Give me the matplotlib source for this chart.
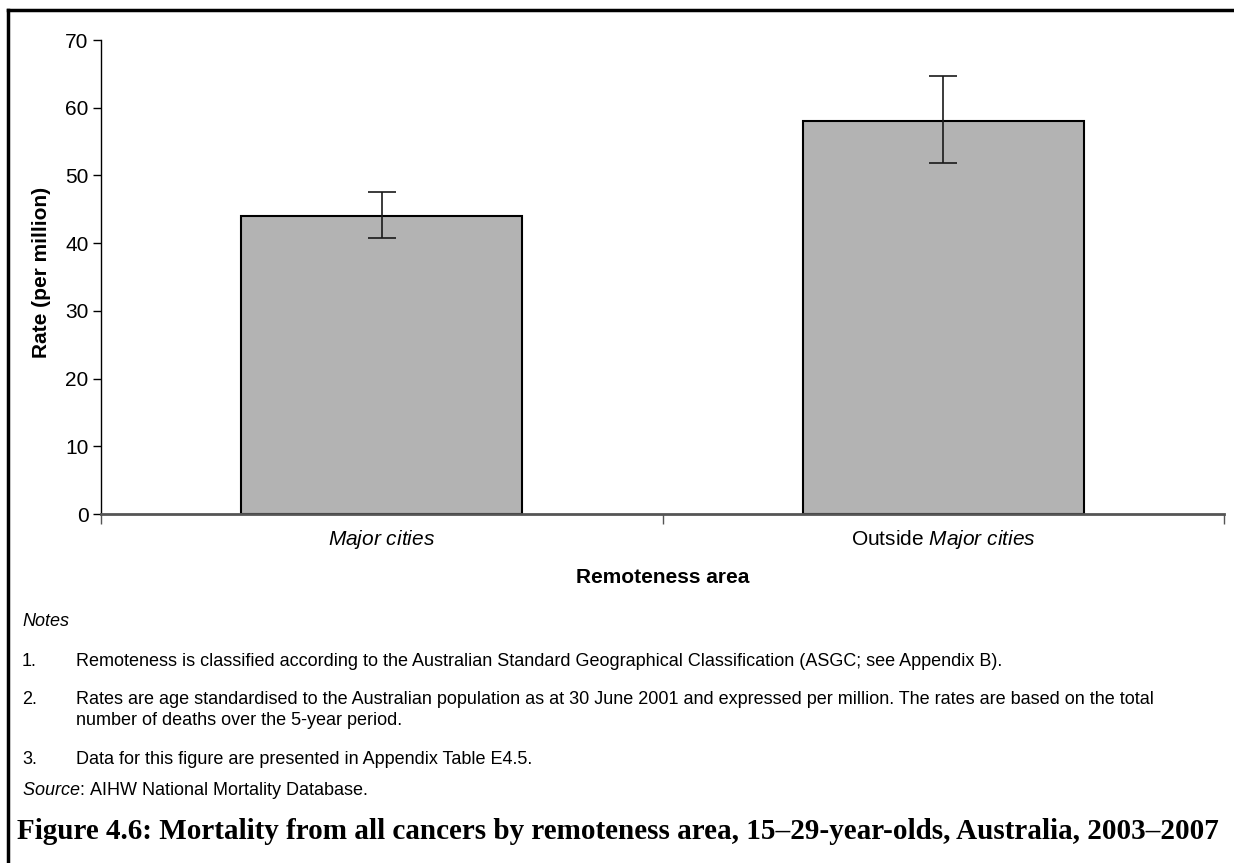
import numpy as np
import matplotlib
matplotlib.use("Agg")
import matplotlib.pyplot as plt
from matplotlib.lines import Line2D

plt.rcParams['font.family'] = ['Liberation Sans', 'DejaVu Sans']
plt.rcParams['mathtext.fontset'] = 'custom'
plt.rcParams['mathtext.rm'] = 'Liberation Sans'
plt.rcParams['mathtext.it'] = 'Liberation Sans:italic'

# age-standardised cancer mortality, 15-29 year olds, 2003-2007
areas = [r"$\mathit{Major\ cities}$", r"Outside $\mathit{Major\ cities}$"]
rates = [44.0, 58.1]
ci_low = [40.7, 51.9]
ci_high = [47.5, 64.7]

notes = [
    ("1.", ["Remoteness is classified according to the Australian Standard Geographical Classification (ASGC; see Appendix B)."]),
    ("2.", ["Rates are age standardised to the Australian population as at 30 June 2001 and expressed per million. The rates are based on the total",
            "number of deaths over the 5-year period."]),
    ("3.", ["Data for this figure are presented in Appendix Table E4.5."]),
]
source = r"$\mathit{Source}$: AIHW National Mortality Database."
title = "Figure 4.6: Mortality from all cancers by remoteness area, 15\u201329-year-olds, Australia, 2003\u20132007"

W, H = 1234, 863
fig = plt.figure(figsize=(W / 100, H / 100), dpi=100)
ax = fig.add_axes([101 / W, 1 - 514 / H, 1123 / W, 474 / H])

x = np.arange(len(rates))
rates = np.array(rates)
yerr = np.array([rates - np.array(ci_low), np.array(ci_high) - rates])
ax.bar(x, rates, width=0.5, color='#b3b3b3', edgecolor='black', linewidth=1.5, zorder=2)
ax.errorbar(x, rates, yerr=yerr, fmt='none', ecolor='#1a1a1a', elinewidth=1.2,
            capsize=10, capthick=1.2, zorder=3)

ax.set_xlim(-0.5, 1.5)
ax.set_ylim(0, 70)
ax.set_yticks(range(0, 71, 10))
ax.set_xticks(x)
ax.set_xticklabels(areas, fontsize=15)
ax.set_xticks([-0.5, 0.5, 1.5], minor=True)
ax.tick_params(axis='x', which='major', length=0, pad=10)
ax.tick_params(axis='x', which='minor', length=7, width=1, color='#555555', direction='out')
ax.tick_params(axis='y', length=6, width=1, labelsize=15, pad=3)

for s in ['top', 'right']:
    ax.spines[s].set_visible(False)
ax.spines['left'].set_linewidth(1)
ax.spines['bottom'].set_color('#555555')
ax.spines['bottom'].set_linewidth(2)
ax.spines['bottom'].set_zorder(4)

ax.set_ylabel("Rate (per million)", fontsize=15, fontweight='bold')
ax.yaxis.set_label_coords(-0.0445, 0.51)
ax.set_xlabel("Remoteness area", fontsize=15, fontweight='bold')
ax.xaxis.set_label_coords(0.5, -0.114)

# notes and source underneath
fs = 13
fig.text(22 / W, 1 - 621 / H, "Notes", fontsize=fs, style='italic', va='center')
ys = [661, 700, 759]
for (num, lines), y in zip(notes, ys):
    fig.text(22 / W, 1 - y / H, num, fontsize=fs, va='center')
    for i, line in enumerate(lines):
        fig.text(76 / W, 1 - (y + 20 * i) / H, line, fontsize=fs, va='center')
fig.text(22 / W, 1 - 790 / H, source, fontsize=fs, va='center')
fig.text(17 / W, 1 - 831 / H, title, fontsize=21, fontweight='bold',
         family=['Liberation Serif', 'DejaVu Serif'], va='center')

# frame lines along top and left edge
fig.add_artist(Line2D([8 / W, 1], [1 - 10 / H] * 2, color='black', lw=2.5, transform=fig.transFigure))
fig.add_artist(Line2D([8 / W] * 2, [0, 1 - 10 / H], color='black', lw=2.5, transform=fig.transFigure))

fig.savefig("out.png", dpi=100)
